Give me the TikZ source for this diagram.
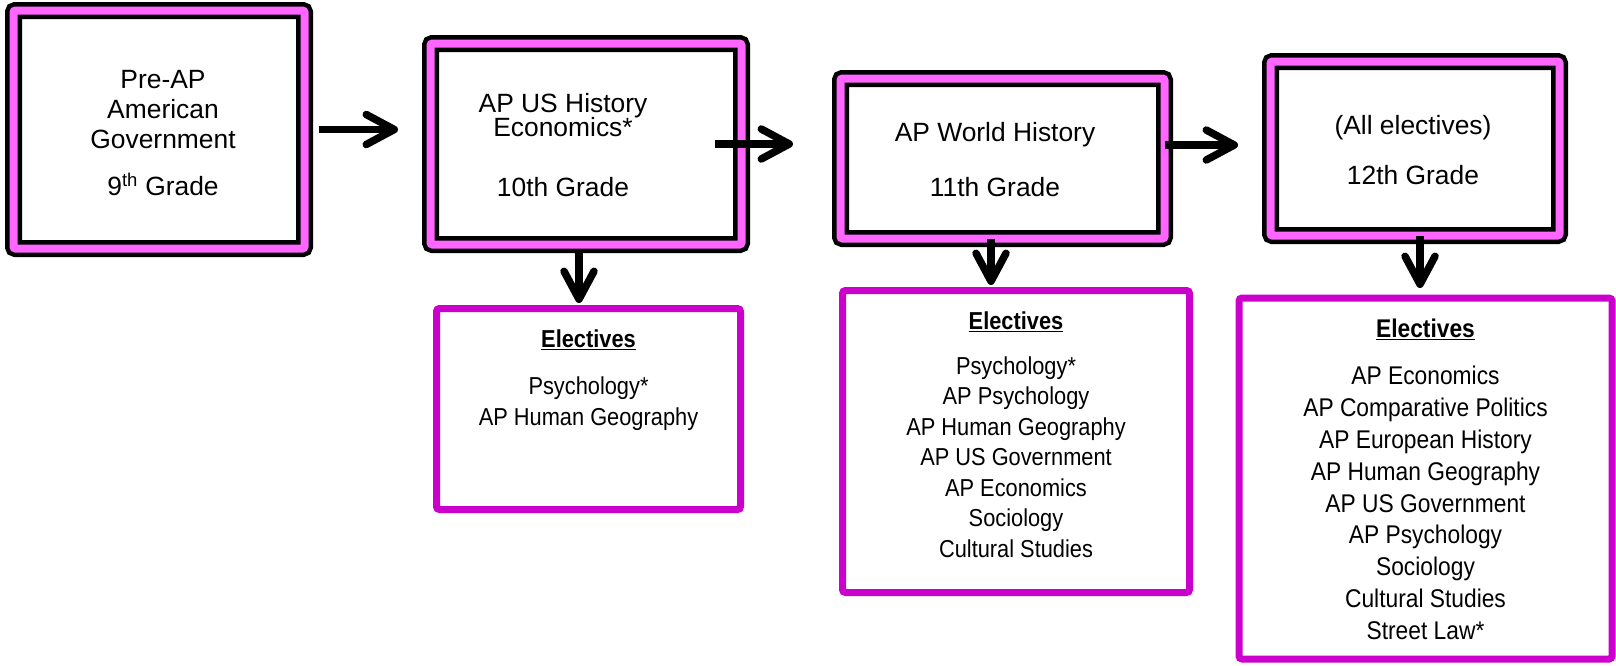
\documentclass[tikz,border=0pt]{standalone}
\usepackage{fontspec}
\setmainfont{Liberation Sans}
\newfontfamily\narrowsans[FakeStretch=0.89]{Liberation Sans}
\usetikzlibrary{arrows.meta, positioning}
\definecolor{bandpink}{RGB}{255,102,255}
\definecolor{electmagenta}{RGB}{204,0,204}

\begin{document}
\begin{tikzpicture}[x=1pt, y=-1pt, >={Straight Barb[length=28pt, width=30pt, round]},
    gradebox/.style={draw=black, line width=4.5pt, double=bandpink, double distance=8pt, fill=white, rounded corners=2pt, inner sep=0pt, outer sep=0pt},
    electbox/.style={draw=electmagenta, line width=7pt, fill=white, rounded corners=3pt, inner sep=0pt, outer sep=0pt},
    gradetext/.style={align=center, inner sep=0pt, anchor=north, font=\fontsize{26.4}{30}\selectfont},
    electtext/.style={align=center, inner sep=0pt, anchor=north, font=\narrowsans\fontsize{24.5}{30.5}\selectfont},
    flow/.style={->, line width=7.5pt}]

    \useasboundingbox (0,0) rectangle (1616,665);

    % grade boxes
    \node[gradebox, minimum width=291pt, minimum height=238pt] (g9) at (159,129.5) {};
    \node[gradebox, minimum width=311pt, minimum height=201pt] (g10) at (586,144) {};
    \node[gradebox, minimum width=324pt, minimum height=160pt] (g11) at (1002.5,158.5) {};
    \node[gradebox, minimum width=289pt, minimum height=174pt] (g12) at (1415,148.5) {};

    \node[gradetext] (t9) at (163,70.5) {Pre-AP\\American\\Government\\[17pt]9\textsuperscript{th} Grade};
    \node[gradetext] (t10) at (563,93.5) {AP US History\\[-6pt]Economics*\\[30pt]10th Grade};
    \node[gradetext] (t11) at (995,122.5) {AP World History\\[25pt]11th Grade};
    \node[gradetext] (t12) at (1413,115.5) {(All electives)\\[20pt]12th Grade};

    % elective boxes
    \node[electbox, minimum width=304pt, minimum height=201pt] (e10) at (588.5,409) {};
    \node[electbox, minimum width=347pt, minimum height=302pt] (e11) at (1016,441.5) {};
    \node[electbox, minimum width=373pt, minimum height=361pt] (e12) at (1425.5,478.5) {};

    \node[electtext] (l10) at ([yshift=-20.8pt]e10.north) {\underline{\textbf{Electives}}\\[17pt]Psychology*\\AP Human Geography};
    \node[electtext] (l11) at ([yshift=-20.7pt]e11.north) {\underline{\textbf{Electives}}\\[14.5pt]Psychology*\\AP Psychology\\AP Human Geography\\AP US Government\\AP Economics\\Sociology\\Cultural Studies};
    \node[electtext, font=\narrowsans\fontsize{25.6}{31.9}\selectfont] (l12) at ([yshift=-20.8pt]e12.north) {\underline{\textbf{Electives}}\\[15pt]AP Economics\\AP Comparative Politics\\AP European History\\AP Human Geography\\AP US Government\\AP Psychology\\Sociology\\Cultural Studies\\Street Law*};

    % arrows
    \draw[flow, shorten <=14.5pt, shorten >=32.5pt] (g9.east) -- (g9.east -| g10.west);
    \draw[flow, shorten >=47.5pt] ([xshift=-26.5pt]g10.east) -- (g10.east -| g11.west);
    \draw[flow, shorten >=32.5pt] ([yshift=13.5pt]g11.east) -- ([yshift=13.5pt]g11.east -| g12.west);
    \draw[flow, shorten <=7.5pt, shorten >=5.5pt] ([xshift=-7pt]g10.south) -- ([xshift=-7pt]g10.south |- e10.north);
    \draw[flow, shorten >=5.5pt] ([xshift=-11.5pt]g11.south) -- ([xshift=-11.5pt]g11.south |- e11.north);
    \draw[flow, shorten >=10pt] ([xshift=5pt]g12.south) -- ([xshift=5pt]g12.south |- e12.north);
\end{tikzpicture}
\end{document}
